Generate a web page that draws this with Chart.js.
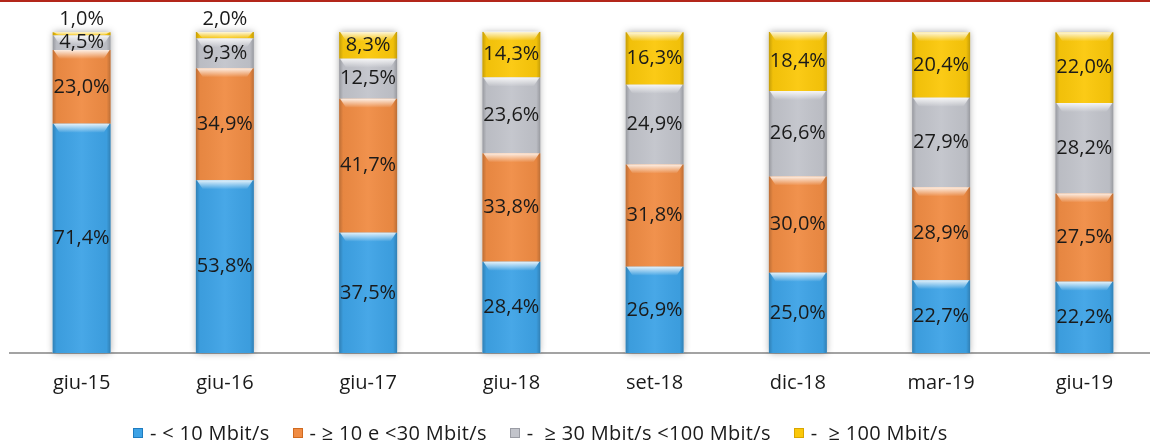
<!DOCTYPE html>
<html>
<head>
<meta charset="utf-8">
<script src="https://cdn.jsdelivr.net/npm/chart.js@4/dist/chart.umd.min.js"></script>
<style>
  html, body { margin: 0; padding: 0; background: #fff; overflow: hidden; }
  body { width: 1150px; height: 445px; position: relative; font-family: "Open Sans", sans-serif; }
  #topline { position: absolute; left: 0; top: 0; width: 1150px; height: 2px; background: #b3261a; }
  #wrap { position: absolute; left: 0; top: 0; width: 1160px; height: 420px; }
  #legend { position: absolute; left: 133px; top: 419px; display: flex; font-size: 20px; line-height: 28px; letter-spacing: 0.3px; color: #1a1a1a; white-space: pre; }
  #legend .item { display: flex; align-items: center; margin-right: 23px; }
  #legend .box { width: 10px; height: 10px; margin-right: 7px; box-sizing: border-box; }
</style>
</head>
<body>
<div id="topline"></div>
<div id="wrap"><canvas id="chart"></canvas></div>
<div id="legend"></div>
<script>
const categories = ["giu-15", "giu-16", "giu-17", "giu-18", "set-18", "dic-18", "mar-19", "giu-19"];
const below10 = [71.4, 53.8, 37.5, 28.4, 26.9, 25.0, 22.7, 22.2];
const from10to30 = [23.0, 34.9, 41.7, 33.8, 31.8, 30.0, 28.9, 27.5];
const from30to100 = [4.5, 9.3, 12.5, 23.6, 24.9, 26.6, 27.9, 28.2];
const over100 = [1.0, 2.0, 8.3, 14.3, 16.3, 18.4, 20.4, 22.0];
const seriesNames = ["- < 10 Mbit/s", "- \u2265 10 e <30 Mbit/s", "-  \u2265 30 Mbit/s <100 Mbit/s", "-  \u2265 100 Mbit/s"];
const fillColors = ["#3ea3e6", "#f08c44", "#c2c4cb", "#fbc80a"];
const edgeColors = ["#1f7cc0", "#d06a20", "#9a9ca4", "#d9a600"];

function fmt(v) {
  return v.toFixed(1).replace(".", ",") + "%";
}

const bevelPlugin = {
  id: "bevel",
  beforeDatasetsDraw(chart) {
    const ctx = chart.ctx;
    const metas = chart.getSortedVisibleDatasetMetas();
    categories.forEach((c, i) => {
      const first = metas[0].data[i];
      let top = first.base;
      metas.forEach(m => { top = Math.min(top, m.data[i].y); });
      ctx.save();
      ctx.shadowColor = "rgba(0,0,0,0.35)";
      ctx.shadowBlur = 7;
      ctx.fillStyle = "#ffffff";
      ctx.fillRect(first.x - first.width / 2, top, first.width, first.base - top);
      ctx.restore();
    });
  },
  afterDatasetsDraw(chart) {
    const ctx = chart.ctx;
    const metas = chart.getSortedVisibleDatasetMetas();
    metas.forEach(meta => {
      meta.data.forEach(bar => {
        const left = bar.x - bar.width / 2;
        const top = Math.min(bar.y, bar.base);
        const h = Math.abs(bar.base - bar.y);
        ctx.save();
        const g = ctx.createLinearGradient(left, 0, left + bar.width, 0);
        g.addColorStop(0, "rgba(0,0,0,0.22)");
        g.addColorStop(0.07, "rgba(0,0,0,0.04)");
        g.addColorStop(0.5, "rgba(255,255,255,0.05)");
        g.addColorStop(0.93, "rgba(0,0,0,0.04)");
        g.addColorStop(1, "rgba(0,0,0,0.22)");
        ctx.fillStyle = g;
        ctx.fillRect(left, top, bar.width, h);
        const hh = Math.min(9, h);
        const gh = ctx.createLinearGradient(0, top, 0, top + hh);
        gh.addColorStop(0, "rgba(255,255,255,0.85)");
        gh.addColorStop(1, "rgba(255,255,255,0)");
        ctx.fillStyle = gh;
        ctx.beginPath();
        ctx.moveTo(left + 1, top);
        ctx.lineTo(left + bar.width - 1, top);
        ctx.lineTo(left + bar.width - 7, top + hh);
        ctx.lineTo(left + 7, top + hh);
        ctx.closePath();
        ctx.fill();
        ctx.restore();
      });
    });

    // value labels
    ctx.save();
    ctx.font = "20px 'Open Sans', sans-serif";
    ctx.fillStyle = "#1a1a1a";
    ctx.textAlign = "center";
    ctx.textBaseline = "middle";
    metas.forEach(meta => {
      const values = chart.data.datasets[meta.index].data;
      meta.data.forEach((bar, i) => {
        const v = values[i];
        const top = Math.min(bar.y, bar.base);
        const y = v < 3 ? top - 13 : (bar.y + bar.base) / 2;
        ctx.fillText(fmt(v), bar.x, y);
      });
    });
    ctx.restore();
  }
};

const seriesData = [below10, from10to30, from30to100, over100];

new Chart(document.getElementById("chart"), {
  type: "bar",
  data: {
    labels: categories,
    datasets: seriesData.map((d, k) => ({
      label: seriesNames[k],
      data: d,
      backgroundColor: fillColors[k],
      borderWidth: 0,
      barPercentage: 0.405,
      categoryPercentage: 1
    }))
  },
  options: {
    responsive: true,
    maintainAspectRatio: false,
    animation: false,
    layout: { padding: { left: 10, right: 4, top: 32, bottom: 7 } },
    plugins: {
      legend: { display: false },
      tooltip: { enabled: false }
    },
    scales: {
      x: {
        stacked: true,
        grid: { display: false, drawTicks: false },
        border: { display: true, color: "#a3a3a3", width: 2 },
        ticks: { color: "#1a1a1a", padding: 18, font: { family: "'Open Sans', sans-serif", size: 20 } }
      },
      y: {
        stacked: true,
        display: false,
        min: 0,
        max: 100
      }
    }
  },
  plugins: [bevelPlugin]
});

const legendEl = document.getElementById("legend");
seriesNames.forEach((name, k) => {
  const item = document.createElement("div");
  item.className = "item";
  item.innerHTML = `<span class="box" style="background:${fillColors[k]};border:1px solid ${edgeColors[k]}"></span><span>${name}</span>`;
  legendEl.appendChild(item);
});
</script>
</body>
</html>
